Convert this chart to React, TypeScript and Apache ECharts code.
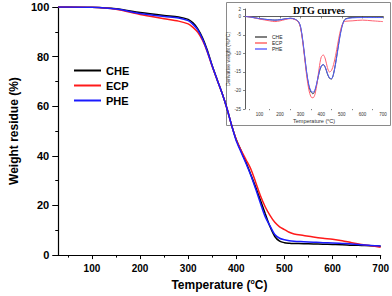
import React, { useEffect, useRef } from 'react';
import * as echarts from 'echarts';

// ---- TGA (main chart) ----
const tgaTemps = [30, 50, 100, 150, 200, 250, 280, 300, 310, 320, 330, 340, 350, 360, 370, 380, 390, 400, 410, 420, 430, 440, 450, 460, 470, 480, 490, 500, 510, 520, 540, 560, 580, 600, 620, 640, 660, 680, 700];
const cheTGA = [100, 100, 99.9, 99.3, 97.8, 96.6, 96.0, 95.0, 93.6, 91.2, 87.5, 82.5, 76.3, 70.8, 65.5, 59.5, 52.5, 46.5, 42.0, 37.5, 32.5, 27.5, 22.2, 16.8, 11.5, 7.5, 5.6, 5.0, 4.8, 4.7, 4.6, 4.5, 4.4, 4.3, 4.2, 4.0, 3.9, 3.8, 3.6];
const ecpTGA = [100, 100, 99.9, 99.1, 97.0, 95.3, 94.3, 93.2, 91.8, 89.8, 86.5, 81.8, 76.0, 70.8, 65.5, 59.5, 52.5, 46.5, 42.2, 38.5, 34.8, 29.5, 24.0, 19.5, 16.0, 13.2, 11.4, 10.3, 9.2, 8.5, 7.9, 7.3, 6.8, 6.4, 5.8, 5.0, 4.3, 3.8, 3.2];
const pheTGA = [100, 100, 99.9, 99.2, 97.4, 96.2, 95.6, 94.5, 93.0, 90.8, 87.0, 82.0, 76.2, 70.8, 65.5, 59.5, 52.5, 46.0, 41.5, 37.0, 32.3, 26.8, 21.0, 15.5, 11.8, 8.3, 6.8, 6.2, 5.8, 5.6, 5.4, 5.2, 5.0, 4.9, 4.7, 4.5, 4.2, 3.9, 3.7];

// ---- DTG (inset) ----
const dtgTemps = [30, 60, 100, 150, 175, 200, 250, 270, 290, 300, 310, 320, 330, 340, 350, 360, 370, 380, 390, 400, 410, 420, 430, 440, 450, 460, 470, 480, 490, 500, 510, 520, 550, 600, 650, 700];
const cheDTG = [0, -0.2, -0.6, -0.9, -1.0, -0.9, -0.5, -0.7, -1.5, -3.0, -6.5, -11.0, -15.5, -18.8, -20.4, -20.9, -20.0, -17.8, -15.2, -13.5, -13.0, -13.8, -15.5, -16.7, -16.9, -15.5, -12.5, -9.0, -5.5, -2.8, -1.2, -0.6, -0.3, -0.3, -0.3, -0.3];
const ecpDTG = [0, -0.2, -0.7, -1.2, -1.4, -1.2, -0.6, -0.8, -1.6, -3.2, -6.8, -11.5, -16.3, -19.8, -21.7, -22.0, -21.0, -18.0, -14.0, -11.0, -10.4, -11.5, -13.8, -15.0, -14.6, -13.0, -10.5, -7.5, -4.6, -2.5, -1.5, -1.3, -1.2, -1.0, -1.2, -1.4];
const pheDTG = [0, -0.2, -0.6, -0.9, -1.0, -0.9, -0.5, -0.7, -1.4, -2.8, -6.2, -10.8, -15.3, -18.5, -20.1, -20.5, -19.8, -17.6, -15.0, -13.4, -13.0, -13.8, -15.4, -16.6, -16.8, -15.5, -12.8, -9.3, -5.8, -3.0, -1.3, -0.7, -0.4, -0.3, -0.3, -0.3];

const seriesNames = ['CHE', 'ECP', 'PHE'];
const xMajorTicks = [100, 200, 300, 400, 500, 600, 700];
const xMinorTicks = [50, 150, 250, 350, 450, 550, 650];

const mainColors = ['#000000', '#ff1a1a', '#1a1aff'];
const insetColors = ['#3a3a3a', '#ff6070', '#5060ff'];

export default function App() {
  const ref = useRef<HTMLDivElement>(null);
  useEffect(() => {
    const chart = echarts.init(ref.current!, null, { renderer: 'svg' });
    const zip = (xs: number[], ys: number[]) => xs.map((x, i) => [x, ys[i]]);
    const font = 'Arial, "Liberation Sans", sans-serif';
    const axisLine = { lineStyle: { color: '#000', width: 1.2 } };
    const tgaData = [cheTGA, ecpTGA, pheTGA];
    const dtgData = [cheDTG, ecpDTG, pheDTG];

    const option: any = {
      animation: false,
      backgroundColor: '#fff',
      title: {
        text: 'DTG curves',
        left: 293,
        top: 5,
        padding: 0,
        textStyle: { fontFamily: '"Liberation Serif", "DejaVu Serif", serif', fontWeight: 'bold', fontSize: 10, color: '#000' },
      },
      graphic: [
        {
          type: 'rect',
          z: -10,
          shape: { x: 226.5, y: 2.5, width: 164, height: 123 },
          style: { fill: '#fff', stroke: '#8a8a8a', lineWidth: 1 },
        },
      ],
      legend: [
        {
          orient: 'vertical',
          left: 74,
          top: 64,
          icon: 'rect',
          itemWidth: 27,
          itemHeight: 2,
          itemGap: 2,
          padding: 0,
          data: seriesNames,
          textStyle: { fontFamily: font, fontWeight: 'bold', fontSize: 11, color: '#000', lineHeight: 13 },
        },
        {
          orient: 'vertical',
          left: 255,
          top: 34,
          icon: 'rect',
          itemWidth: 12,
          itemHeight: 1,
          itemGap: 0,
          padding: 0,
          data: seriesNames,
          textStyle: { fontFamily: font, fontSize: 5, color: '#222', lineHeight: 6 },
        },
      ],
      grid: [
        { left: 36, right: 10, top: 7, bottom: 39, containLabel: false },
        { left: 245, right: 9, top: 9, bottom: 187, containLabel: false },
      ],
      xAxis: [
        {
          type: 'value', gridIndex: 0, min: 30, max: 700, position: 'bottom',
          axisLine,
          axisTick: { show: true, customValues: xMajorTicks, length: 4, lineStyle: { color: '#000' } },
          axisLabel: { customValues: xMajorTicks, margin: 8, fontFamily: font, fontWeight: 'bold', fontSize: 10, color: '#000' },
          splitLine: { show: false },
          name: '{a|Temperature (}{s|o}{a|C)}',
          nameLocation: 'middle',
          nameGap: 22,
          nameTextStyle: {
            rich: {
              a: { fontFamily: font, fontWeight: 'bold', fontSize: 12, color: '#000', lineHeight: 14 },
              s: { fontFamily: font, fontWeight: 'bold', fontSize: 7, color: '#000', verticalAlign: 'top', lineHeight: 14 },
            },
          },
        },
        {
          type: 'value', gridIndex: 0, min: 30, max: 700, position: 'bottom',
          axisLine: { show: false },
          axisTick: { show: true, customValues: xMinorTicks, length: 2.5, lineStyle: { color: '#000' } },
          axisLabel: { show: false },
          splitLine: { show: false },
        },
        {
          type: 'value', gridIndex: 1, min: 30, max: 700, position: 'bottom',
          axisLine: { lineStyle: { color: '#333', width: 0.8 } },
          axisTick: { show: true, customValues: xMajorTicks, length: 2, lineStyle: { color: '#333', width: 0.6 } },
          axisLabel: { customValues: xMajorTicks, margin: 3, fontFamily: font, fontSize: 4.5, color: '#333' },
          splitLine: { show: false },
          name: '{a|Temperature (}{s|o}{a|C)}',
          nameLocation: 'middle',
          nameGap: 9,
          nameTextStyle: {
            rich: {
              a: { fontFamily: font, fontSize: 5.5, color: '#333', lineHeight: 6 },
              s: { fontFamily: font, fontSize: 3.5, color: '#333', verticalAlign: 'top', lineHeight: 6 },
            },
          },
        },
        {
          type: 'value', gridIndex: 1, min: 30, max: 700, position: 'bottom',
          axisLine: { show: false },
          axisTick: { show: true, customValues: xMinorTicks, length: 1.2, lineStyle: { color: '#333', width: 0.6 } },
          axisLabel: { show: false },
          splitLine: { show: false },
        },
      ],
      yAxis: [
        {
          type: 'value', gridIndex: 0, min: 0, max: 100, interval: 20,
          axisLine: { show: true, ...axisLine },
          axisTick: { show: true, length: 6, lineStyle: { color: '#000' } },
          minorTick: { show: true, splitNumber: 2, length: 3, lineStyle: { color: '#000' } },
          axisLabel: { margin: 9, fontFamily: font, fontWeight: 'bold', fontSize: 11, color: '#000' },
          splitLine: { show: false },
          name: 'Weight residue (%)',
          nameLocation: 'middle',
          nameGap: 23,
          nameRotate: 90,
          nameTextStyle: { fontFamily: font, fontWeight: 'bold', fontSize: 12, color: '#000' },
        },
        {
          type: 'value', gridIndex: 1, min: -25, max: 2, interval: 5,
          axisLine: { show: true, lineStyle: { color: '#333', width: 0.8 } },
          axisTick: { show: true, length: 2, lineStyle: { color: '#333', width: 0.6 } },
          axisLabel: { margin: 4, fontFamily: font, fontSize: 4.5, color: '#333' },
          splitLine: { show: false },
          name: '{a|Derivative weight (%/}{s|o}{a|C)}',
          nameLocation: 'middle',
          nameGap: 13,
          nameRotate: 90,
          nameTextStyle: {
            rich: {
              a: { fontFamily: font, fontSize: 5, color: '#333', lineHeight: 6 },
              s: { fontFamily: font, fontSize: 3.5, color: '#333', verticalAlign: 'top', lineHeight: 6 },
            },
          },
        },
      ],
      series: [
        ...seriesNames.map((name, i) => ({
          name,
          type: 'line',
          xAxisIndex: 0,
          yAxisIndex: 0,
          smooth: 0.3,
          symbol: 'none',
          data: zip(tgaTemps, tgaData[i]),
          lineStyle: { color: mainColors[i], width: 1.5 },
          itemStyle: { color: mainColors[i] },
          z: 3 + i,
        })),
        ...seriesNames.map((name, i) => ({
          name,
          type: 'line',
          xAxisIndex: 2,
          yAxisIndex: 1,
          smooth: 0.3,
          symbol: 'none',
          data: zip(dtgTemps, dtgData[i]),
          lineStyle: { color: insetColors[i], width: 1 },
          itemStyle: { color: insetColors[i] },
          z: 3 + i,
        })),
      ],
    };
    chart.setOption(option);
    return () => chart.dispose();
  }, []);
  return <div ref={ref} style={{ position: 'fixed', left: 0, top: 0, width: 392, height: 296 }} />;
}
